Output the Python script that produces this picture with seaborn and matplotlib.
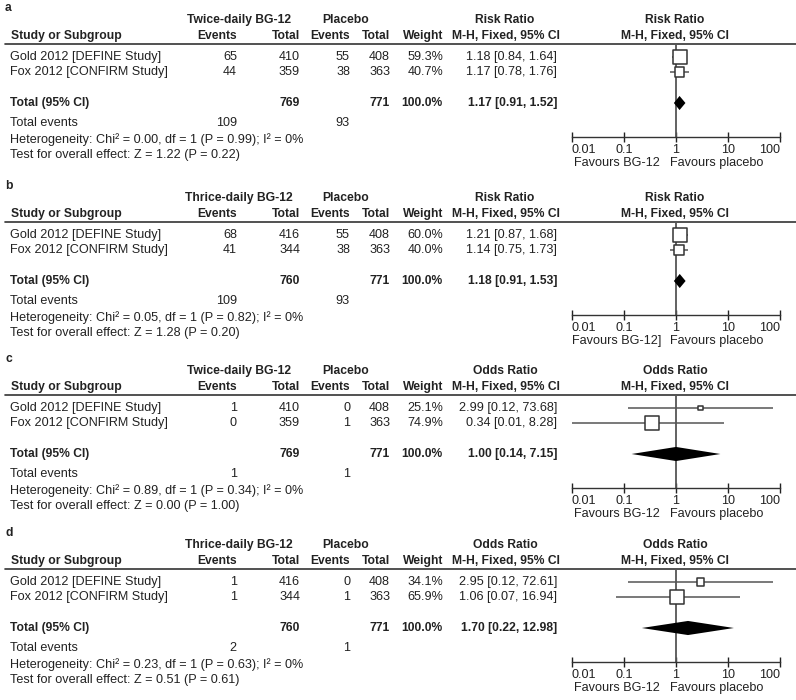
import matplotlib
matplotlib.use('Agg')
import matplotlib.pyplot as plt
import seaborn as sns
import pandas as pd

# Forest plot data (four panels, two studies each)
panel_tags = ['a', 'b', 'c', 'd']
treat_labels = ['Twice-daily BG-12', 'Thrice-daily BG-12', 'Twice-daily BG-12', 'Thrice-daily BG-12']
measures = ['Risk Ratio', 'Risk Ratio', 'Odds Ratio', 'Odds Ratio']
studies = ['Gold 2012 [DEFINE Study]', 'Fox 2012 [CONFIRM Study]']
bg_events = [[65, 44], [68, 41], [1, 0], [1, 1]]
bg_totals = [[410, 359], [416, 344], [410, 359], [416, 344]]
pl_events = [[55, 38], [55, 38], [0, 1], [0, 1]]
pl_totals = [[408, 363], [408, 363], [408, 363], [408, 363]]
weights = [[59.3, 40.7], [60.0, 40.0], [25.1, 74.9], [34.1, 65.9]]
est = [[1.18, 1.17], [1.21, 1.14], [2.99, 0.34], [2.95, 1.06]]
ci_lo = [[0.84, 0.78], [0.87, 0.75], [0.12, 0.01], [0.12, 0.07]]
ci_hi = [[1.64, 1.76], [1.68, 1.73], [73.68, 8.28], [72.61, 16.94]]
pooled_est = [1.17, 1.18, 1.00, 1.70]
pooled_lo = [0.91, 0.91, 0.14, 0.22]
pooled_hi = [1.52, 1.53, 7.15, 12.98]
het_chi2 = ['0.00', '0.05', '0.89', '0.23']
het_p = ['0.99', '0.82', '0.34', '0.63']
z_vals = ['1.22', '1.28', '0.00', '0.51']
z_p = ['0.22', '0.20', '1.00', '0.61']
favours_left = ['Favours BG-12', 'Favours BG-12]', 'Favours BG-12', 'Favours BG-12']
favours_right = 'Favours placebo'
tick_vals = [0.01, 0.1, 1, 10, 100]
tick_labels = ['0.01', '0.1', '1', '10', '100']

sns.set_theme(style='white')
plt.rcParams['font.family'] = ['Liberation Sans', 'DejaVu Sans']

W, H = 796, 700
FS = 9.1
FS_BOLD = 8.7
DARK = '#222222'
GREY = '#555555'

# layout (pixels)
offsets = [0, 178, 351, 525]
HDR1, HDR2, LINE = 20, 36, 43.5
ROWS = [57, 72]
TOT, TEV, HET, TEST, FAV = 103, 123, 140, 155, 163
AXIS_Y = 137
FX0, FX1 = 572, 780


def fig_rect(x0, y0, x1, y1):
    return [x0 / W, 1 - y1 / H, (x1 - x0) / W, (y1 - y0) / H]


fig = plt.figure(figsize=(W / 100, H / 100), dpi=100)
ax0 = fig.add_axes([0, 0, 1, 1])
ax0.set_xlim(0, W)
ax0.set_ylim(H, 0)
ax0.axis('off')


def txt(x, y, s, ha='left', bold=False):
    ax0.text(x, y, s, ha=ha, va='center', fontsize=FS_BOLD if bold else FS, color=DARK,
             fontweight='bold' if bold else 'normal')


for i, off in enumerate(offsets):
    # text table
    txt(5, off + 8, panel_tags[i], bold=True)
    txt(239, off + HDR1, treat_labels[i], ha='center', bold=True)
    txt(346, off + HDR1, 'Placebo', ha='center', bold=True)
    txt(505, off + HDR1, measures[i], ha='center', bold=True)
    txt(675, off + HDR1, measures[i], ha='center', bold=True)
    txt(11, off + HDR2, 'Study or Subgroup', bold=True)
    txt(237, off + HDR2, 'Events', ha='right', bold=True)
    txt(300, off + HDR2, 'Total', ha='right', bold=True)
    txt(350, off + HDR2, 'Events', ha='right', bold=True)
    txt(390, off + HDR2, 'Total', ha='right', bold=True)
    txt(443, off + HDR2, 'Weight', ha='right', bold=True)
    txt(506, off + HDR2, 'M-H, Fixed, 95% CI', ha='center', bold=True)
    txt(675, off + HDR2, 'M-H, Fixed, 95% CI', ha='center', bold=True)
    ax0.plot([5, W], [off + LINE] * 2, color='#333333', lw=1.2)

    for j, name in enumerate(studies):
        y = off + ROWS[j]
        txt(10, y, name)
        txt(237, y, str(bg_events[i][j]), ha='right')
        txt(300, y, str(bg_totals[i][j]), ha='right')
        txt(350, y, str(pl_events[i][j]), ha='right')
        txt(390, y, str(pl_totals[i][j]), ha='right')
        txt(443, y, f'{weights[i][j]:.1f}%', ha='right')
        txt(557, y, f'{est[i][j]:.2f} [{ci_lo[i][j]:.2f}, {ci_hi[i][j]:.2f}]', ha='right')

    txt(10, off + TOT, 'Total (95% CI)', bold=True)
    txt(300, off + TOT, str(sum(bg_totals[i])), ha='right', bold=True)
    txt(390, off + TOT, str(sum(pl_totals[i])), ha='right', bold=True)
    txt(443, off + TOT, f'{sum(weights[i]):.1f}%', ha='right', bold=True)
    txt(557, off + TOT, f'{pooled_est[i]:.2f} [{pooled_lo[i]:.2f}, {pooled_hi[i]:.2f}]',
        ha='right', bold=True)
    txt(10, off + TEV, 'Total events')
    txt(237, off + TEV, str(sum(bg_events[i])), ha='right')
    txt(350, off + TEV, str(sum(pl_events[i])), ha='right')
    txt(10, off + HET, f'Heterogeneity: Chi\u00b2 = {het_chi2[i]}, df = 1 (P = {het_p[i]}); I\u00b2 = 0%')
    txt(10, off + TEST, f'Test for overall effect: Z = {z_vals[i]} (P = {z_p[i]})')
    txt(617, off + FAV, favours_left[i], ha='center')
    txt(717, off + FAV, favours_right, ha='center')

    # forest axes
    fax = fig.add_axes(fig_rect(FX0, off + LINE, FX1, off + AXIS_Y))
    fax.set_xscale('log')
    row_px = 15.0
    fax.set_ylim((AXIS_Y - ROWS[0]) / row_px, (LINE - ROWS[0]) / row_px)
    fax.set_xlim(0.01, 100)
    fax.patch.set_alpha(0)

    df = pd.DataFrame({'est': est[i], 'lo': ci_lo[i], 'hi': ci_hi[i],
                       'row': [0, 1], 'w': weights[i]})
    side_px = 14 * df['w'] / df['w'].max()
    fax.axvline(1, color=GREY, lw=1.3, zorder=1)
    fax.hlines(df['row'], df['lo'], df['hi'], color=GREY, lw=1.1, zorder=2)
    sns.scatterplot(data=df, x='est', y='row', marker='s', s=(side_px * 0.72) ** 2,
                    color='white', edgecolor='#333333', linewidth=1.1,
                    ax=fax, zorder=3, legend=False)
    ty = (TOT - ROWS[0]) / row_px
    hh = 0.47
    fax.fill([pooled_lo[i], pooled_est[i], pooled_hi[i], pooled_est[i]],
             [ty, ty - hh, ty, ty + hh], color='black', lw=0, zorder=3)

    sns.despine(ax=fax, left=True, top=True, right=True)
    fax.spines['bottom'].set_color('#333333')
    fax.spines['bottom'].set_linewidth(1.0)
    fax.set_xticks(tick_vals)
    fax.set_xticklabels(tick_labels)
    fax.minorticks_off()
    fax.set_yticks([])
    fax.set_xlabel('')
    fax.set_ylabel('')
    fax.tick_params(axis='x', direction='inout', length=7, width=1.0, pad=1.5,
                    labelsize=FS, colors=DARK, bottom=True)
    labels = fax.get_xticklabels()
    labels[0].set_ha('left')
    labels[-1].set_ha('right')

fig.savefig('out.png', dpi=100)
